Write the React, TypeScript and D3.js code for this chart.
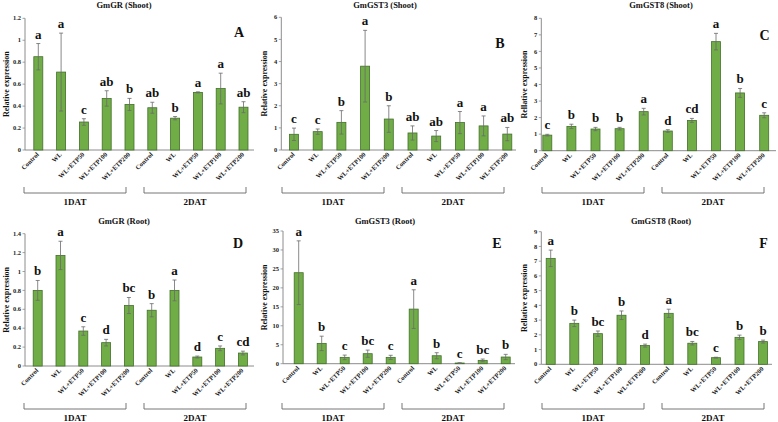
import React from "react";
import * as d3 from "d3";

const categories = ["Control", "WL", "WL+ETP50", "WL+ETP100", "WL+ETP200", "Control", "WL", "WL+ETP50", "WL+ETP100", "WL+ETP200"];
const groupLabels = ["1DAT", "2DAT"];
const panelTitles = ["GmGR (Shoot)", "GmGST3 (Shoot)", "GmGST8 (Shoot)", "GmGR (Root)", "GmGST3 (Root)", "GmGST8 (Root)"];
const panelLetters = ["A", "B", "C", "D", "E", "F"];
const yLabels = ["Relative expression", "Relative expression", "Rellative expression", "Relative expression", "Relative expression", "Rellative expression"];

const grShootValues = [0.85, 0.71, 0.255, 0.47, 0.415, 0.385, 0.29, 0.525, 0.56, 0.39];
const grShootErrors = [0.12, 0.355, 0.03, 0.07, 0.055, 0.05, 0.015, 0.005, 0.14, 0.05];
const grShootSig = ["a", "a", "c", "ab", "b", "ab", "b", "a", "a", "ab"];

const gst3ShootValues = [0.71, 0.83, 1.25, 3.79, 1.4, 0.77, 0.63, 1.24, 1.09, 0.72];
const gst3ShootErrors = [0.28, 0.12, 0.53, 1.62, 0.6, 0.32, 0.25, 0.5, 0.45, 0.3];
const gst3ShootSig = ["c", "c", "b", "a", "b", "ab", "ab", "a", "a", "ab"];

const gst8ShootValues = [0.94, 1.47, 1.31, 1.33, 2.36, 1.19, 1.83, 6.59, 3.49, 2.14];
const gst8ShootErrors = [0.05, 0.13, 0.1, 0.08, 0.2, 0.08, 0.12, 0.5, 0.27, 0.15];
const gst8ShootSig = ["c", "b", "b", "b", "a", "d", "cd", "a", "b", "c"];

const grRootValues = [0.8, 1.17, 0.37, 0.247, 0.64, 0.59, 0.8, 0.095, 0.187, 0.137];
const grRootErrors = [0.105, 0.15, 0.045, 0.035, 0.085, 0.07, 0.11, 0.01, 0.025, 0.02];
const grRootSig = ["b", "a", "c", "d", "bc", "b", "a", "d", "c", "cd"];

const gst3RootValues = [24.0, 5.36, 1.67, 2.64, 1.67, 14.4, 2.1, 0.18, 0.88, 1.76];
const gst3RootErrors = [8.4, 1.9, 0.6, 0.95, 0.55, 5.1, 0.8, 0.05, 0.35, 0.7];
const gst3RootSig = ["a", "b", "c", "bc", "c", "a", "b", "c", "bc", "b"];

const gst8RootValues = [7.19, 2.78, 2.08, 3.33, 1.27, 3.46, 1.43, 0.45, 1.83, 1.54];
const gst8RootErrors = [0.56, 0.22, 0.18, 0.29, 0.1, 0.28, 0.12, 0.03, 0.15, 0.1];
const gst8RootSig = ["a", "b", "bc", "b", "d", "a", "bc", "c", "b", "b"];

const yMaxes = [1.2, 6, 8, 1.4, 35, 9];
const yTickSteps = [0.2, 1, 1, 0.2, 5, 1];

const allValues = [grShootValues, gst3ShootValues, gst8ShootValues, grRootValues, gst3RootValues, gst8RootValues];
const allErrors = [grShootErrors, gst3ShootErrors, gst8ShootErrors, grRootErrors, gst3RootErrors, gst8RootErrors];
const allSig = [grShootSig, gst3ShootSig, gst8ShootSig, grRootSig, gst3RootSig, gst8RootSig];

// layout per panel
const layouts = [
  { ox: 0, oy: 0, axisX: 25, axisEnd: 254, y0: 150, yTop: 18.3, xFirst: 38.3, band: 22.8, titleX: 124, lx: 239, ly: 37 },
  { ox: 258, oy: 0, axisX: 281.3, axisEnd: 516, y0: 150, yTop: 17.3, xFirst: 294, band: 23.7, titleX: 385, lx: 500, ly: 48 },
  { ox: 518, oy: 0, axisX: 541.3, axisEnd: 776, y0: 150.7, yTop: 18.3, xFirst: 547.3, band: 24.1, titleX: 661, lx: 764.5, ly: 40 },
  { ox: 0, oy: 216, axisX: 25, axisEnd: 254, y0: 366, yTop: 233.7, xFirst: 37.7, band: 22.8, titleX: 124, lx: 238, ly: 248 },
  { ox: 258, oy: 216, axisX: 283, axisEnd: 515, y0: 363.7, yTop: 231, xFirst: 298.7, band: 23, titleX: 385, lx: 497, ly: 248 },
  { ox: 518, oy: 216, axisX: 541.3, axisEnd: 772, y0: 364.3, yTop: 231.7, xFirst: 550.7, band: 23.6, titleX: 661, lx: 763.5, ly: 248 },
];

const FONT = "'Liberation Serif', 'Times New Roman', serif";
const BAR_FILL = "#70ad47";
const BAR_STROKE = "#43702a";
const AXIS = "#8c8c8c";
const ERR = "#6b6b6b";

function Panel({ i }: { i: number }) {
  const L = layouts[i];
  const values = allValues[i];
  const errors = allErrors[i];
  const sig = allSig[i];
  const idx = categories.map((_, k) => String(k));
  const x = d3
    .scaleBand<string>()
    .domain(idx)
    .range([L.xFirst - L.band / 2, L.xFirst - L.band / 2 + L.band * categories.length])
    .paddingInner(0.6)
    .paddingOuter(0.3);
  const y = d3.scaleLinear().domain([0, yMaxes[i]]).range([L.y0, L.yTop]);
  const ticks = d3.range(0, yMaxes[i] + yTickSteps[i] / 2, yTickSteps[i]);
  const bw = 9;
  const fmt = (v: number) => String(+v.toFixed(1));
  const brackets = [
    { a: L.ox + 24, b: L.ox + 126, label: groupLabels[0] },
    { a: L.ox + 144, b: L.ox + 246, label: groupLabels[1] },
  ];
  const bY = L.oy + 193;
  return (
    <g fontFamily={FONT} fontWeight="bold">
      <text x={L.titleX} y={L.oy + 8} textAnchor="middle" fontSize={8.5} fill="#111">
        {panelTitles[i]}
      </text>
      <text x={L.lx} y={L.ly} textAnchor="middle" fontSize={14} fill="#111">
        {panelLetters[i]}
      </text>
      <text
        transform={`translate(${L.ox + 7},${(L.y0 + L.yTop) / 2}) rotate(-90)`}
        textAnchor="middle"
        dominantBaseline="middle"
        fontSize={8}
        fill="#111"
      >
        {yLabels[i]}
      </text>
      {ticks.map((t) => (
        <g key={t}>
          <line x1={L.axisX - 2.5} x2={L.axisX} y1={y(t)} y2={y(t)} stroke={AXIS} strokeWidth={0.8} />
          <text x={L.axisX - 4} y={y(t)} dy="0.33em" textAnchor="end" fontSize={6.5} fill="#222">
            {fmt(t)}
          </text>
        </g>
      ))}
      <line x1={L.axisX} x2={L.axisX} y1={L.yTop} y2={L.y0} stroke={AXIS} strokeWidth={1} />
      <line x1={L.axisX} x2={L.axisEnd} y1={L.y0} y2={L.y0} stroke={AXIS} strokeWidth={1} />
      {values.map((v, k) => {
        const cx = (x(String(k)) as number) + x.bandwidth() / 2;
        const top = y(v);
        const eTop = y(v + errors[k]);
        const eBot = y(Math.max(0, v - errors[k]));
        return (
          <g key={k}>
            <rect x={cx - bw / 2} y={top} width={bw} height={L.y0 - top} fill={BAR_FILL} stroke={BAR_STROKE} strokeWidth={0.8} />
            <line x1={cx} x2={cx} y1={eTop} y2={eBot} stroke={ERR} strokeWidth={0.8} />
            <line x1={cx - 2} x2={cx + 2} y1={eTop} y2={eTop} stroke={ERR} strokeWidth={0.8} />
            <line x1={cx - 2} x2={cx + 2} y1={eBot} y2={eBot} stroke={ERR} strokeWidth={0.8} />
            <text x={cx} y={eTop - 5} textAnchor="middle" fontSize={13} fill="#111">
              {sig[k]}
            </text>
            <text
              transform={`translate(${cx + 1},${L.y0 + 5}) rotate(-45)`}
              textAnchor="end"
              fontSize={6.5}
              fill="#222"
            >
              {categories[k]}
            </text>
          </g>
        );
      })}
      {brackets.map((b) => (
        <g key={b.label}>
          <path
            d={`M${b.a},${bY - 6}V${bY}H${b.b}V${bY - 6}`}
            fill="none"
            stroke="#666"
            strokeWidth={0.9}
          />
          <text x={(b.a + b.b) / 2} y={L.oy + 205} textAnchor="middle" fontSize={9} fill="#111">
            {b.label}
          </text>
        </g>
      ))}
    </g>
  );
}

export default function App() {
  return (
    <svg
      width={778}
      height={422}
      viewBox="0 0 778 422"
      style={{ position: "absolute", left: 0, top: 0, background: "#fff" }}
    >
      <rect width={778} height={422} fill="#fff" />
      {layouts.map((_, i) => (
        <Panel key={i} i={i} />
      ))}
    </svg>
  );
}
